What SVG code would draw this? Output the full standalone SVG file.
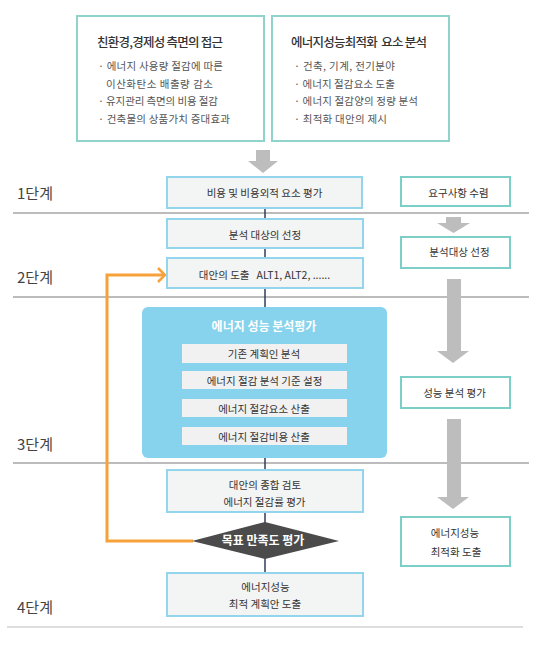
<svg xmlns="http://www.w3.org/2000/svg" width="541" height="650" viewBox="0 0 541 650">
<style>
text{font-family:"Noto Sans CJK KR","Noto Sans",sans-serif;}
.ttl{font-size:12.5px;fill:#333;font-weight:500;}
.bul{font-size:10.5px;fill:#555;}
.t{font-size:10.5px;fill:#333;text-anchor:middle;}
.stage{font-size:15px;fill:#444;}
.wt{font-size:12px;fill:#fff;font-weight:700;text-anchor:middle;}
.topbox{fill:#fff;stroke:#8fd3cb;stroke-width:2;}
.cbox{fill:#f3f4f4;stroke:#93d5ec;stroke-width:2;}
.rbox{fill:#fff;stroke:#7ccfc6;stroke-width:2;}
.bar{fill:#f1f1f1;}
.sep{stroke:#bcbcbc;stroke-width:2;}
.garrow{fill:#bdbdbd;}
</style>

<g id="separators">
<line class="sep" x1="13" y1="213" x2="529" y2="213"/>
<line class="sep" x1="13" y1="297" x2="529" y2="297"/>
<line class="sep" x1="13" y1="463" x2="529" y2="463"/>
<line x1="7" y1="627" x2="523" y2="627" stroke="#dedede" stroke-width="2"/>
</g>

<g id="stage-labels">
<text class="stage" x="17" y="199">1단계</text>
<text class="stage" x="17" y="283">2단계</text>
<text class="stage" x="17" y="450">3단계</text>
<text class="stage" x="17" y="613">4단계</text>
</g>

<g id="box-eco">
<rect class="topbox" x="77" y="16" width="187" height="125"/>
<text class="ttl" x="97" y="47" textLength="126">친환경,경제성 측면의 접근</text>
<text class="bul" x="98" y="70" textLength="125">· 에너지 사용량 절감에 따른</text>
<text class="bul" x="106" y="88" textLength="107">이산화탄소 배출량 감소</text>
<text class="bul" x="98" y="105" textLength="120">· 유지관리 측면의 비용 절감</text>
<text class="bul" x="98" y="123" textLength="132">· 건축물의 상품가치 증대효과</text>
</g>

<g id="box-energy-factors">
<rect class="topbox" x="272" y="16" width="177" height="125"/>
<text class="ttl" x="291" y="47" textLength="136" xml:space="preserve">에너지성능최적화  요소 분석</text>
<text class="bul" x="294" y="70" textLength="101">· 건축, 기계, 전기분야</text>
<text class="bul" x="294" y="88" textLength="101">· 에너지 절감요소 도출</text>
<text class="bul" x="294" y="105" textLength="124">· 에너지 절감양의 정량 분석</text>
<text class="bul" x="294" y="123" textLength="93">· 최적화 대안의 제시</text>
</g>

<g id="connectors">
<line x1="265" y1="208" x2="265" y2="573" stroke="#2c3e5a" stroke-width="1.5"/>
<polygon class="garrow" points="256,150 270,150 270,161 278,161 263,173 248,161 256,161"/>
<polygon class="garrow" points="446,217 461,217 461,223 470,223 453.5,233 437,223 446,223"/>
<polygon class="garrow" points="447,279 461,279 461,351 469,351 453,363 437,351 447,351"/>
<polygon class="garrow" points="447,419 461,419 461,497 469,497 453,509 437,497 447,497"/>
<polyline points="193,541 107,541 107,275 164,275" fill="none" stroke="#f7a13b" stroke-width="3"/>
<polyline points="158,268 165,275 158,282" fill="none" stroke="#f7a13b" stroke-width="2.5"/>
</g>

<g id="node-cost">
<rect class="cbox" x="167" y="177" width="195" height="31"/>
<text class="t" x="264.5" y="197">비용 및 비용외적 요소 평가</text>
</g>

<g id="node-target">
<rect class="cbox" x="167" y="219" width="196" height="29"/>
<text class="t" x="265" y="239">분석 대상의 선정</text>
</g>

<g id="node-alt">
<rect class="cbox" x="167" y="258" width="196" height="30"/>
<text class="t" x="264.5" y="279" xml:space="preserve">대안의 도출   ALT1, ALT2, ......</text>
</g>

<g id="node-energy-analysis">
<rect x="142" y="307" width="245" height="151" rx="6" fill="#87d2ec"/>
<text class="wt" x="264" y="331">에너지 성능 분석평가</text>
<rect class="bar" x="182" y="344" width="165" height="19"/>
<text class="t" x="264" y="358">기존 계획인 분석</text>
<rect class="bar" x="182" y="371" width="165" height="18"/>
<text class="t" x="264.5" y="385">에너지 절감 분석 기준 설정</text>
<rect class="bar" x="182" y="399" width="165" height="18"/>
<text class="t" x="264" y="413">에너지 절감요소 산출</text>
<rect class="bar" x="182" y="427" width="165" height="18"/>
<text class="t" x="264" y="441">에너지 절감비용 산출</text>
</g>

<g id="node-review">
<rect class="cbox" x="167" y="470" width="196" height="42"/>
<text class="t" x="265" y="489">대안의 종합 검토</text>
<text class="t" x="264.5" y="506">에너지 절감률 평가</text>
</g>

<g id="node-decision">
<polygon points="192,541 265,522 339,541 265,559" fill="#4b4b4b"/>
<text class="wt" x="263" y="545">목표 만족도 평가</text>
</g>

<g id="node-final">
<rect class="cbox" x="167" y="573" width="196" height="43"/>
<text class="t" x="265.5" y="591">에너지성능</text>
<text class="t" x="265" y="608">최적 계획안 도출</text>
</g>

<g id="node-r1">
<rect class="rbox" x="401" y="177" width="109" height="29"/>
<text class="t" x="458.5" y="197">요구사항 수렴</text>
</g>
<g id="node-r2">
<rect class="rbox" x="401" y="237" width="109" height="31"/>
<text class="t" x="459.5" y="256">분석대상 선정</text>
</g>
<g id="node-r3">
<rect class="rbox" x="401" y="377" width="109" height="31"/>
<text class="t" x="454.5" y="397">성능 분석 평가</text>
</g>
<g id="node-r4">
<rect class="rbox" x="401" y="517" width="109" height="49"/>
<text class="t" x="455" y="537">에너지성능</text>
<text class="t" x="456" y="556">최적화 도출</text>
</g>
</svg>
